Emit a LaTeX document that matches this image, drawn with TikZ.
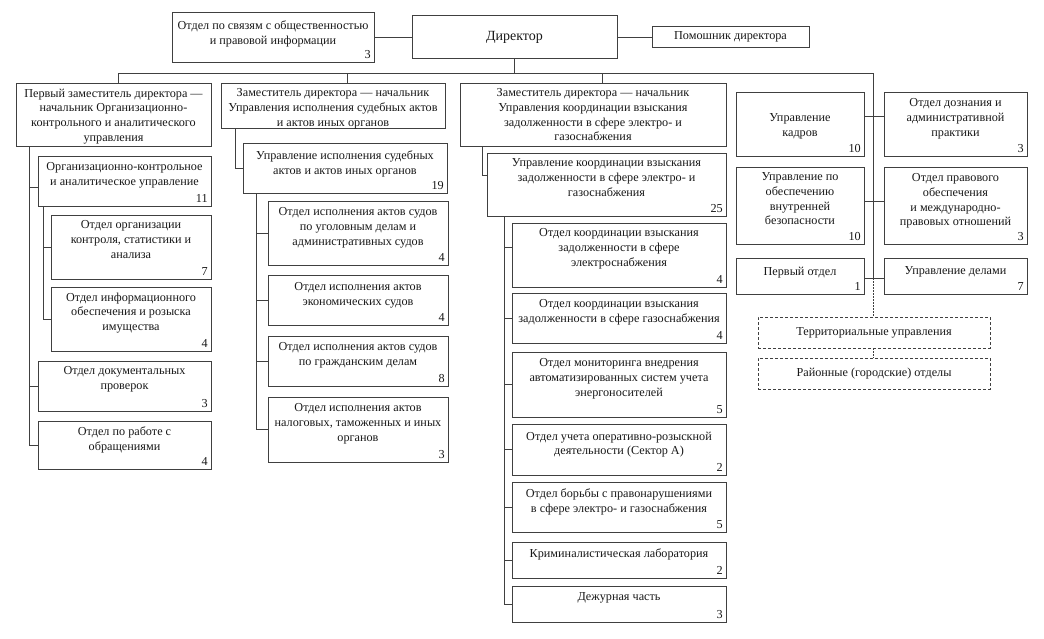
\documentclass[tikz,border=0pt]{standalone}
\usepackage{fontspec}
\setmainfont{Liberation Serif}
\usetikzlibrary{calc}
\newcommand\fs{\fontsize{12.2}{14.7}\selectfont}
\tikzset{
  bx/.style={draw=black!75, line width=0.8pt, inner sep=0pt, rectangle},
  dbx/.style={bx, dash pattern=on 3pt off 2pt},
  tx/.style={inner sep=0pt, align=center, font=\fs, text=black!90},
  nm/.style={inner xsep=3.5pt, inner ysep=3.5pt, anchor=south east, font=\fs, text=black!90},
  ln/.style={draw=black!75, line width=0.8pt},
  dln/.style={ln, dash pattern=on 1.5pt off 1.5pt}
}
% name, x1, y1, x2, y2, pad, text, number
\newcommand\ob[8]{%
  \node[bx, minimum width={(#4-#2)*1pt}, minimum height={(#5-#3)*1pt}] (#1) at ({(#2+#4)/2},{(#3+#5)/2}) {};
  \node[tx, anchor=north] (#1t) at ([yshift=-#6pt]#1.north) {#7};
  \node[nm] (#1n) at (#1.south east) {#8};
}
% name, x1, y1, x2, y2, style, text (centred)
\newcommand\cb[7]{%
  \node[#6, minimum width={(#4-#2)*1pt}, minimum height={(#5-#3)*1pt}, align=center, font=\fs, text=black!90] (#1) at ({(#2+#4)/2},{(#3+#5)/2}) {#7};
}
\begin{document}
\begin{tikzpicture}[x=1pt,y=-1pt]
\useasboundingbox[fill=white] (0,0) rectangle (1044,638);

% top row
\ob{pr}{172}{12}{374}{62}{9}{Отдел по связям с общественностью\\и правовой информации}{3}
\node[bx, minimum width=205pt, minimum height=43pt, font=\fontsize{14}{16}\selectfont, text=black!90] (dir) at (514.5,37) {Директор};
\cb{pom}{652}{26}{809}{47}{bx}{Помошник директора}
\draw[ln] (pr.east) -- (pr.east -| dir.west);
\draw[ln] (dir.east) -- (dir.east -| pom.west);

% column heads
\ob{c1}{16}{83}{211}{146}{6}{Первый заместитель директора —\\начальник Организационно-\\контрольного и аналитического\\управления}{}
\ob{c2}{221}{83}{445}{128}{6}{Заместитель директора — начальник\\Управления исполнения судебных актов\\и актов иных органов}{}
\ob{c3}{460}{83}{726}{146}{6}{Заместитель директора — начальник\\Управления координации взыскания\\задолженности в сфере электро- и\\газоснабжения}{}

% bus
\coordinate (bL) at (118,73);
\coordinate (bR) at (873,73);
\coordinate (d2) at (347,73);
\coordinate (d3) at (602,73);
\draw[ln] (dir.south) -- (dir.south |- bL);
\draw[ln] (bL |- c1.north) -- (bL) -- (bR);
\draw[ln] (d2) -- (d2 |- c2.north);
\draw[ln] (d3) -- (d3 |- c3.north);

% column 1
\ob{c1a}{38}{156}{211}{206}{7}{Организационно-контрольное\\и аналитическое управление}{11}
\ob{c1a1}{51}{215}{211}{279}{6}{Отдел организации\\контроля, статистики и\\анализа}{7}
\ob{c1a2}{51}{287}{211}{351}{6}{Отдел информационного\\обеспечения и розыска\\имущества}{4}
\ob{c1b}{38}{361}{211}{411}{6}{Отдел документальных\\проверок}{3}
\ob{c1c}{38}{421}{211}{469}{6}{Отдел по работе с\\обращениями}{4}
\coordinate (s1) at (29,0);
\coordinate (s1a) at (43,0);
\draw[ln] (s1 |- c1.south) -- (s1 |- c1c.west);
\draw[ln] (s1 |- 0,187) -- (c1a.west |- 0,187);
\draw[ln] (s1 |- c1b.west) -- (c1b.west);
\draw[ln] (s1 |- c1c.west) -- (c1c.west);
\draw[ln] (s1a |- c1a.south) -- (s1a |- c1a2.west);
\draw[ln] (s1a |- c1a1.west) -- (c1a1.west);
\draw[ln] (s1a |- c1a2.west) -- (c1a2.west);

% column 2
\ob{c2a}{243}{143}{447}{193}{8}{Управление исполнения судебных\\актов и актов иных органов}{19}
\ob{c2a1}{268}{201}{448}{265}{7}{Отдел исполнения актов судов\\по уголовным делам и\\административных судов}{4}
\ob{c2a2}{268}{275}{448}{325}{8}{Отдел исполнения актов\\экономических судов}{4}
\ob{c2a3}{268}{336}{448}{386}{7}{Отдел исполнения актов судов\\по гражданским делам}{8}
\ob{c2a4}{268}{397}{448}{462}{7}{Отдел исполнения актов\\налоговых, таможенных и иных\\органов}{3}
\coordinate (s2) at (235,0);
\coordinate (s2a) at (256,0);
\draw[ln] (s2 |- c2.south) -- (s2 |- c2a.west) -- (c2a.west);
\draw[ln] (s2a |- c2a.south) -- (s2a |- c2a4.west);
\foreach \n in {c2a1,c2a2,c2a3,c2a4} \draw[ln] (s2a |- \n.west) -- (\n.west);

% column 3
\ob{c3a}{487}{153}{726}{216}{6}{Управление координации взыскания\\задолженности в сфере электро- и\\газоснабжения}{25}
\ob{c3a1}{512}{223}{726}{287}{6}{Отдел координации взыскания\\задолженности в сфере\\электроснабжения}{4}
\ob{c3a2}{512}{293}{726}{343}{7}{Отдел координации взыскания\\задолженности в сфере газоснабжения}{4}
\ob{c3a3}{512}{352}{726}{417}{7}{Отдел мониторинга внедрения\\автоматизированных систем учета\\энергоносителей}{5}
\ob{c3a4}{512}{424}{726}{475}{8}{Отдел учета оперативно-розыскной\\деятельности (Сектор А)}{2}
\ob{c3a5}{512}{482}{726}{532}{7}{Отдел борьбы с правонарушениями\\в сфере электро- и газоснабжения}{5}
\ob{c3a6}{512}{542}{726}{578}{7}{Криминалистическая лаборатория}{2}
\ob{c3a7}{512}{586}{726}{622}{7}{Дежурная часть}{3}
\coordinate (s3) at (482,0);
\coordinate (s3a) at (504,0);
\draw[ln] (s3 |- c3.south) -- (s3 |- 0,175) -- (c3a.west |- 0,175);
\draw[ln] (s3a |- c3a.south) -- (s3a |- c3a7.west);
\draw[ln] (s3a |- 0,247) -- (c3a1.west |- 0,247);
\foreach \n in {c3a2,c3a3,c3a4,c3a5,c3a6,c3a7} \draw[ln] (s3a |- \n.west) -- (\n.west);

% column 4
\ob{k1}{736}{92}{864}{156}{22}{Управление\\кадров}{10}
\ob{k2}{884}{92}{1027}{156}{7}{Отдел дознания и\\административной\\практики}{3}
\ob{k3}{736}{167}{864}{244}{6}{Управление по\\обеспечению\\внутренней\\безопасности}{10}
\ob{k4}{884}{167}{1027}{244}{7}{Отдел правового\\обеспечения\\и международно-\\правовых отношений}{3}
\ob{k5}{736}{258}{864}{294}{9}{Первый отдел}{1}
\ob{k6}{884}{258}{1027}{294}{9}{Управление делами}{7}
\cb{t1}{758}{317}{990}{348}{dbx}{Территориальные управления}
\cb{t2}{758}{358}{990}{389}{dbx}{Районные (городские) отделы}
\coordinate (h1) at (873,116);
\coordinate (h2) at (873,201);
\coordinate (h3) at (873,278);
\draw[ln] (bR) -- (h3);
\draw[dln] (h3) -- (h3 |- t1.north);
\draw[dln] (h3 |- t1.south) -- (h3 |- t2.north);
\draw[ln] (k1.east |- h1) -- (k2.west |- h1);
\draw[ln] (k3.east |- h2) -- (k4.west |- h2);
\draw[ln] (k5.east |- h3) -- (k6.west |- h3);
\end{tikzpicture}
\end{document}
